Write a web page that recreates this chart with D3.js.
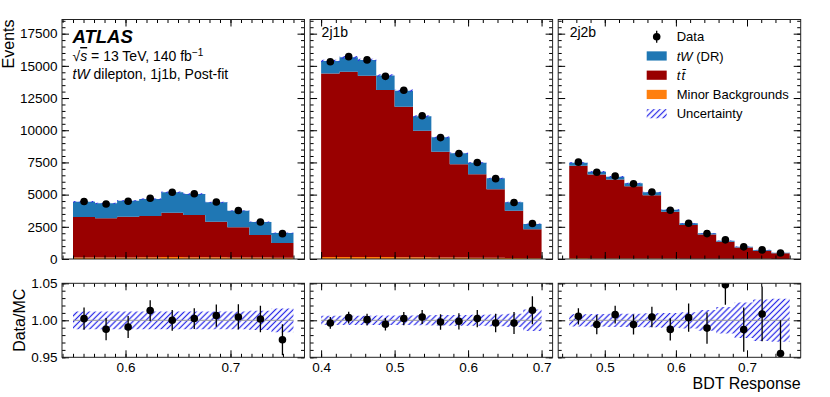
<!DOCTYPE html>
<html>
<head>
<meta charset="utf-8">
<script src="https://cdn.jsdelivr.net/npm/d3@7"></script>
<style>
  body { margin: 0; background: #fff; }
  text { font-family: "Liberation Sans", Arial, Helvetica, sans-serif; fill: #000; }
</style>
</head>
<body>
<div id="chart"></div>
<script>
// ---- data ----
// 1j1b region
var edges1j1b = [0.55, 0.571, 0.592, 0.613, 0.634, 0.655, 0.676, 0.697, 0.718, 0.739, 0.76];
var minor1j1b = [110, 110, 120, 130, 150, 140, 130, 120, 110, 100];
var ttbar1j1b = [3150, 3050, 3170, 3210, 3450, 3280, 2770, 2340, 1750, 1140];
var tw1j1b    = [1190, 1160, 1240, 1320, 1580, 1630, 1500, 1290, 1010, 780];
var data1j1b  = [4460, 4268, 4489, 4721, 5180, 5062, 4428, 3767, 2875, 1967];
var ratioErr1j1b = [0.015, 0.015, 0.015, 0.014, 0.014, 0.014, 0.015, 0.017, 0.018, 0.021];
var unc1j1b   = [0.012, 0.012, 0.012, 0.012, 0.012, 0.012, 0.012, 0.012, 0.013, 0.016];

// 2j1b region
var edges2j1b = [0.400, 0.425, 0.450, 0.475, 0.500, 0.525, 0.550, 0.575, 0.600, 0.625, 0.650, 0.675, 0.700];
var minor2j1b = [150, 160, 160, 150, 140, 130, 120, 110, 100, 90, 70, 50];
var ttbar2j1b = [14265, 14385, 14070, 12970, 11685, 9830, 8210, 7240, 6475, 5320, 3680, 2255];
var tw2j1b    = [958, 1115, 1220, 1140, 1245, 1120, 1120, 855, 905, 855, 650, 412];
var data2j1b  = [15318, 15716, 15464, 14183, 13100, 11130, 9428, 8194, 7497, 6242, 4384, 2754];
var ratioErr2j1b = [0.008, 0.008, 0.008, 0.0085, 0.009, 0.0095, 0.0105, 0.011, 0.0115, 0.0125, 0.015, 0.019];
var unc2j1b   = [0.0063, 0.0063, 0.0063, 0.0065, 0.0065, 0.0068, 0.007, 0.0072, 0.0075, 0.008, 0.009, 0.0145];

// 2j2b region
var edges2j2b = [0.45, 0.4758, 0.5017, 0.5275, 0.5533, 0.5792, 0.605, 0.6308, 0.6567, 0.6825, 0.7083, 0.7342, 0.76];
var minor2j2b = [50, 45, 40, 40, 35, 30, 25, 20, 15, 12, 10, 8];
var ttbar2j2b = [7190, 6525, 6140, 5615, 4915, 3640, 2625, 1880, 1325, 873, 630, 437];
var tw2j2b    = [240, 210, 210, 220, 230, 160, 120, 95, 80, 70, 60, 45];
var data2j2b  = [7520, 6741, 6439, 5841, 5203, 3783, 2780, 1974, 1488, 943, 706, 468];
var ratioErr2j2b = [0.011, 0.013, 0.012, 0.0135, 0.014, 0.015, 0.019, 0.021, 0.027, 0.03, 0.037, 0.045];
var unc2j2b   = [0.0083, 0.0085, 0.009, 0.009, 0.0095, 0.01, 0.011, 0.014, 0.018, 0.024, 0.028, 0.029];

var regionNames = ["1j1b", "2j1b", "2j2b"];
var regionEdges = [edges1j1b, edges2j1b, edges2j2b];
var regionMinor = [minor1j1b, minor2j1b, minor2j2b];
var regionTtbar = [ttbar1j1b, ttbar2j1b, ttbar2j2b];
var regionTw    = [tw1j1b, tw2j1b, tw2j2b];
var regionData  = [data1j1b, data2j1b, data2j2b];
var regionRErr  = [ratioErr1j1b, ratioErr2j1b, ratioErr2j2b];
var regionUnc   = [unc1j1b, unc2j1b, unc2j2b];
var xMinorStep  = [0.01, 0.02, 0.02];

// colours
var twColor = "#1f77b4";
var ttColor = "#990000";
var minorColor = "#ff7f0e";
var hatchColor = "#2a2ae8";

// ---- layout ----
var svgWidth = 830;
var svgHeight = 397;
var plotLeft = 62;
var panelWidth = 242.5;
var panelGap = 5.6;
var mainTop = 19.5, mainBottom = 259;
var ratioTop = 283.3, ratioBottom = 357.3;

var svg = d3.select("#chart")
  .append("svg")
  .attr("width", svgWidth)
  .attr("height", svgHeight);

var defs = svg.append("defs");
defs.append("pattern")
  .attr("id", "hatch")
  .attr("patternUnits", "userSpaceOnUse")
  .attr("width", 4.2)
  .attr("height", 4.2)
  .attr("patternTransform", "rotate(45)")
  .append("line")
  .attr("x1", 2.1).attr("y1", 0)
  .attr("x2", 2.1).attr("y2", 4.2)
  .attr("stroke", hatchColor)
  .attr("stroke-width", 1.25);

var yMain = d3.scaleLinear().domain([0, 18600]).range([mainBottom, mainTop]);
var yRatio = d3.scaleLinear().domain([0.95, 1.05]).range([ratioBottom, ratioTop]);

function stepRange(lo, hi, step) {
  var out = [];
  for (var k = Math.ceil(lo / step - 1e-9); k <= Math.floor(hi / step + 1e-9); k++) {
    out.push(+(k * step).toFixed(6));
  }
  return out;
}

// inside ticks on one side of a panel
function addTicks(g, axisFn, scale, values, size, transform, fmt) {
  var ax = axisFn(scale).tickValues(values).tickSize(-size).tickPadding(fmt ? 5 : 0)
    .tickFormat(fmt ? fmt : "");
  var a = g.append("g").attr("transform", transform).call(ax);
  a.select(".domain").remove();
  a.selectAll("line").attr("stroke", "#000").attr("stroke-width", 1);
  a.selectAll("text").style("font-size", "13.5px")
    .attr("font-family", null);
  a.attr("font-family", null).attr("font-size", null);
  return a;
}

function frameTicks(g, xScale, yScale, x0, x1, y0, y1, xMaj, xMin, yMaj, yMin, xFmt, yFmt) {
  addTicks(g, d3.axisBottom, xScale, xMaj, 7, `translate(0,${y1})`, xFmt);
  addTicks(g, d3.axisBottom, xScale, xMin, 3.5, `translate(0,${y1})`, null);
  addTicks(g, d3.axisTop, xScale, xMaj, 7, `translate(0,${y0})`, null);
  addTicks(g, d3.axisTop, xScale, xMin, 3.5, `translate(0,${y0})`, null);
  var l = addTicks(g, d3.axisLeft, yScale, yMaj, 7, `translate(${x0},0)`, yFmt);
  if (yFmt) l.selectAll("text").attr("x", -4.5);
  addTicks(g, d3.axisLeft, yScale, yMin, 3.5, `translate(${x0},0)`, null);
  addTicks(g, d3.axisRight, yScale, yMaj, 7, `translate(${x1},0)`, null);
  addTicks(g, d3.axisRight, yScale, yMin, 3.5, `translate(${x1},0)`, null);
  g.append("rect")
    .attr("x", x0).attr("y", y0)
    .attr("width", x1 - x0).attr("height", y1 - y0)
    .attr("fill", "none").attr("stroke", "#222").attr("stroke-width", 1);
}

regionNames.forEach(function(name, i) {
  var edges = regionEdges[i];
  var x0 = plotLeft + i * (panelWidth + panelGap);
  var x1 = x0 + panelWidth;
  var lo = edges[0], hi = edges[edges.length - 1], pad = 0.05 * (hi - lo);
  var xScale = d3.scaleLinear().domain([lo - pad, hi + pad]).range([x0, x1]);

  var bins = edges.slice(0, -1).map(function(e, b) {
    var tot = regionMinor[i][b] + regionTtbar[i][b] + regionTw[i][b];
    return {
      lo: e, hi: edges[b + 1], mid: (e + edges[b + 1]) / 2,
      minor: regionMinor[i][b], tt: regionTtbar[i][b], tw: regionTw[i][b],
      total: tot, data: regionData[i][b],
      ratio: regionData[i][b] / tot, rerr: regionRErr[i][b], unc: regionUnc[i][b]
    };
  });

  // step-shaped polygon from per-bin lower/upper values
  function steps(f0, f1) {
    var pts = [];
    bins.forEach(function(d) {
      pts.push({ x: d.lo, y0: f0(d), y1: f1(d) });
      pts.push({ x: d.hi, y0: f0(d), y1: f1(d) });
    });
    return pts;
  }

  // clip paths
  defs.append("clipPath").attr("id", "clipMain" + i)
    .append("rect").attr("x", x0).attr("y", mainTop).attr("width", panelWidth).attr("height", mainBottom - mainTop);
  defs.append("clipPath").attr("id", "clipRatio" + i)
    .append("rect").attr("x", x0).attr("y", ratioTop).attr("width", panelWidth).attr("height", ratioBottom - ratioTop);

  // ---- main panel ----
  var mainG = svg.append("g").attr("clip-path", `url(#clipMain${i})`);
  var areaMain = d3.area().x(d => xScale(d.x)).y0(d => yMain(d.y0)).y1(d => yMain(d.y1));

  mainG.append("path").attr("d", areaMain(steps(d => 0, d => d.minor))).attr("fill", minorColor);
  mainG.append("path").attr("d", areaMain(steps(d => d.minor, d => d.minor + d.tt))).attr("fill", ttColor);
  mainG.append("path").attr("d", areaMain(steps(d => d.minor + d.tt, d => d.total))).attr("fill", twColor);
  mainG.append("path").attr("d", areaMain(steps(d => d.total * (1 - d.unc), d => d.total * (1 + d.unc))))
    .attr("fill", "url(#hatch)");

  mainG.selectAll("circle.data")
    .data(bins)
    .enter()
    .append("circle")
    .attr("cx", d => xScale(d.mid))
    .attr("cy", d => yMain(d.data))
    .attr("r", 3.8)
    .attr("fill", "#000");

  var yMajMain = stepRange(0, 18600, 2500);
  var yMinMain = stepRange(0, 18600, 500);
  var xMaj = stepRange(lo - pad, hi + pad, 0.1);
  var xMin = stepRange(lo - pad, hi + pad, xMinorStep[i]);
  frameTicks(svg.append("g"), xScale, yMain, x0, x1, mainTop, mainBottom,
    xMaj, xMin, yMajMain, yMinMain, null, i === 0 ? d3.format("d") : null);

  // ---- ratio panel ----
  var ratioG = svg.append("g").attr("clip-path", `url(#clipRatio${i})`);
  var areaRatio = d3.area().x(d => xScale(d.x)).y0(d => yRatio(d.y0)).y1(d => yRatio(d.y1));

  ratioG.append("path").attr("d", areaRatio(steps(d => 1 - d.unc, d => 1 + d.unc)))
    .attr("fill", "url(#hatch)");
  ratioG.append("line")
    .attr("x1", xScale(lo)).attr("x2", xScale(hi))
    .attr("y1", yRatio(1)).attr("y2", yRatio(1))
    .attr("stroke", "#999").attr("stroke-width", 1);

  ratioG.selectAll("line.err")
    .data(bins)
    .enter()
    .append("line")
    .attr("x1", d => xScale(d.mid)).attr("x2", d => xScale(d.mid))
    .attr("y1", d => yRatio(d.ratio - d.rerr)).attr("y2", d => yRatio(d.ratio + d.rerr))
    .attr("stroke", "#000").attr("stroke-width", 1.3);

  ratioG.selectAll("circle.rdot")
    .data(bins)
    .enter()
    .append("circle")
    .attr("cx", d => xScale(d.mid))
    .attr("cy", d => yRatio(d.ratio))
    .attr("r", 3.8)
    .attr("fill", "#000");

  frameTicks(svg.append("g"), xScale, yRatio, x0, x1, ratioTop, ratioBottom,
    xMaj, xMin, stepRange(0.95, 1.05, 0.05), stepRange(0.95, 1.05, 0.01),
    d3.format(".1f"), i === 0 ? d3.format(".2f") : null);

  // region label
  if (i > 0) {
    svg.append("text")
      .attr("x", x0 + 11.5)
      .attr("y", 37)
      .style("font-size", "14px")
      .text(name);
  }
});

// ---- ATLAS label block ----
svg.append("text")
  .attr("x", 72.5).attr("y", 42.5)
  .style("font-size", "18.5px").style("font-weight", "bold").style("font-style", "italic")
  .text("ATLAS");

var energy = svg.append("text")
  .attr("x", 72.5).attr("y", 61)
  .style("font-size", "14px");
energy.append("tspan").text("\u221A");
energy.append("tspan").style("font-style", "italic").style("text-decoration", "overline").text("s");
energy.append("tspan").text(" = 13 TeV, 140 fb");
energy.append("tspan").attr("dy", -5.5).style("font-size", "10px").text("\u22121");

var sel = svg.append("text")
  .attr("x", 72.5).attr("y", 79)
  .style("font-size", "14px");
sel.append("tspan").style("font-style", "italic").text("tW");
sel.append("tspan").text(" dilepton, 1j1b, Post-fit");

// ---- legend ----
var legX = plotLeft + 2 * (panelWidth + panelGap) + 88.5;
var legY = 36.7;
var legStep = 19.25;
var legendItems = ["Data", "tW (DR)", "ttbar", "Minor Backgrounds", "Uncertainty"];
var legendFills = [null, twColor, ttColor, minorColor, "url(#hatch)"];

legendItems.forEach(function(item, k) {
  var cy = legY + k * legStep;
  if (k === 0) {
    svg.append("line")
      .attr("x1", legX + 10).attr("x2", legX + 10)
      .attr("y1", cy - 6).attr("y2", cy + 6)
      .attr("stroke", "#000").attr("stroke-width", 1.3);
    svg.append("circle").attr("cx", legX + 10).attr("cy", cy).attr("r", 3.8).attr("fill", "#000");
  } else {
    svg.append("rect")
      .attr("x", legX).attr("y", cy - 4.6)
      .attr("width", 20).attr("height", 9.2)
      .attr("fill", legendFills[k]);
  }
  var t = svg.append("text")
    .attr("x", legX + 30)
    .attr("y", cy + 4.6)
    .style("font-size", "13px");
  if (item === "tW (DR)") {
    t.append("tspan").style("font-style", "italic").text("tW");
    t.append("tspan").text(" (DR)");
  } else if (item === "ttbar") {
    t.append("tspan").style("font-style", "italic").text("t\u200At\u0304");
  } else {
    t.text(item);
  }
});

// ---- axis titles ----
svg.append("text")
  .attr("transform", `translate(13.5, ${mainTop}) rotate(-90)`)
  .attr("text-anchor", "end")
  .style("font-size", "16px")
  .text("Events");

svg.append("text")
  .attr("transform", `translate(24.5, ${(ratioTop + ratioBottom) / 2}) rotate(-90)`)
  .attr("text-anchor", "middle")
  .style("font-size", "16px")
  .text("Data/MC");

svg.append("text")
  .attr("x", plotLeft + 3 * panelWidth + 2 * panelGap)
  .attr("y", 389)
  .attr("text-anchor", "end")
  .style("font-size", "16px")
  .text("BDT Response");
</script>
</body>
</html>
